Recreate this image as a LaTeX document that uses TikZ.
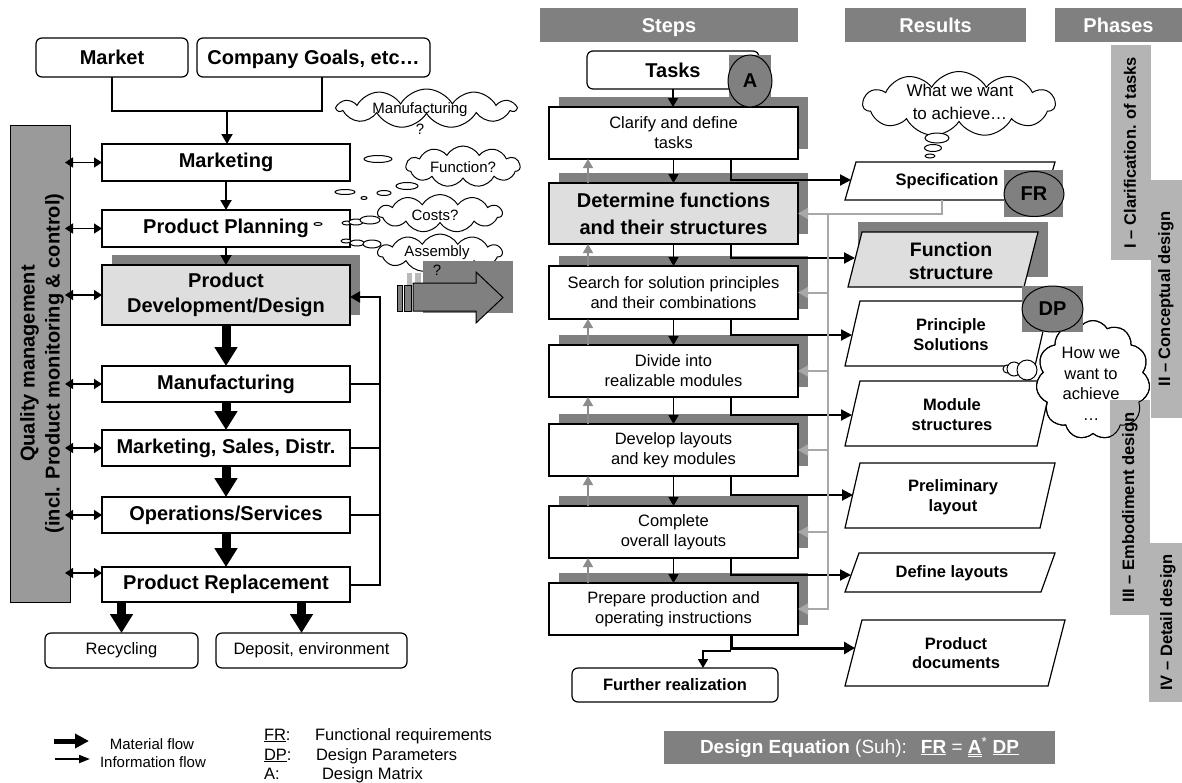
\documentclass[tikz,border=0pt]{standalone}
\usepackage{fontspec}
\setmainfont{Liberation Sans}
\usetikzlibrary{arrows.meta,shapes.symbols,shapes.geometric,shadows,calc}
\definecolor{hdrgray}{HTML}{808080}
\definecolor{qgray}{HTML}{9A9A9A}
\definecolor{lightfill}{HTML}{DEDEDE}
\definecolor{phasegray}{HTML}{B4B4B4}
\definecolor{fbgray}{HTML}{A8A8A8}
\definecolor{upgray}{HTML}{8C8C8C}
\newcommand\setfs[2]{\fontsize{#1}{#2}\selectfont}

\begin{document}
\begin{tikzpicture}[x=1pt,y=-1pt,
  every node/.style={inner sep=0pt, outer sep=0pt},
  lbox/.style={draw, line width=1.2pt, fill=white, minimum width=248pt, font=\setfs{20}{25}\bfseries, align=center},
  rbox/.style={draw, line width=1.2pt, fill=white, rounded corners=6pt, font=\setfs{20}{24}\bfseries},
  endbox/.style={draw, line width=1.2pt, fill=white, rounded corners=6pt, font=\setfs{16.5}{20}},
  stepbox/.style={draw, line width=1.2pt, fill=white, minimum width=249pt, font=\setfs{16.5}{20}, align=center,
    general shadow={fill=hdrgray, shadow xshift=10pt, shadow yshift=10pt}},
  hdr/.style={fill=hdrgray, text=white, minimum height=34pt, text height=14.5pt, text depth=0pt, font=\setfs{20}{24}\bfseries},
  matflow/.style={line width=9pt, -{Triangle[width=22pt,length=19pt]}},
  info/.style={line width=2pt, -{Triangle[width=11pt,length=10pt]}},
  infoboth/.style={line width=1.5pt, {Triangle[width=10pt,length=8pt]}-{Triangle[width=10pt,length=8pt]}},
  sarrow/.style={line width=1.6pt, -{Triangle[width=10pt,length=9pt]}},
  resarrow/.style={line width=2pt, -{Triangle[width=11pt,length=11pt]}},
  uparrow/.style={draw=upgray, line width=1.6pt, -{Triangle[width=10pt,length=9pt]}},
  fb/.style={draw=fbgray, line width=2pt},
  fbarrow/.style={fb, -{Triangle[width=11pt,length=10pt]}},
  thought/.style={cloud, draw, line width=1pt, fill=white, cloud puffs=11, cloud puff arc=120, cloud ignores aspect},
  thoughtline/.style={cloud, draw, line width=1pt, cloud puffs=11, cloud puff arc=120, cloud ignores aspect},
  bubble/.style={draw, line width=1pt, fill=white},
  resbox/.style={draw, line width=1.2pt, fill=white},
  restext/.style={font=\setfs{16.5}{19.5}\bfseries, align=center},
  phasetext/.style={rotate=90, font=\setfs{16.5}{20}\bfseries},
  circ/.style={draw, ellipse, line width=1pt, fill=hdrgray, font=\setfs{20}{24}\bfseries}
]
\useasboundingbox (0,0) rectangle (1182,782);
\fill[white] (0,0) rectangle (1182,782);

% ================= Product life cycle =================
\node[rbox, minimum width=152pt, minimum height=39pt] (market) at (112,57.5) {Market};
\node[rbox, minimum width=233pt, minimum height=39pt, text height=14.5pt, text depth=0pt] (goals) at (313.5,57.5) {Company Goals, etc…};

\node[draw, line width=1pt, fill=qgray, minimum width=60pt, minimum height=477pt] (qbar) at (40,363.5) {};
\node[rotate=90, align=center, font=\setfs{20}{25}\bfseries] (qtext) at (42,363.5)
  {Quality management\\(incl. Product monitoring \& control)};

\node[lbox, minimum height=37pt] (mkt) at (226,162.5) {Marketing};
\node[lbox, minimum height=37pt] (pp) at (226,228.5) {Product Planning};
\node[lbox, minimum height=60pt, fill=lightfill,
  general shadow={fill=hdrgray, shadow xshift=10pt, shadow yshift=10pt}] (pdd) at (226,295) {Product\\Development/Design};
\node[lbox, minimum height=36pt] (man) at (226,384) {Manufacturing};
\node[lbox, minimum height=36pt] (msd) at (226,448) {Marketing, Sales, Distr.};
\node[lbox, minimum height=36pt] (ops) at (226,515) {Operations/Services};
\node[lbox, minimum height=35pt] (repl) at (226,584.5) {Product Replacement};

\node[endbox, minimum width=153pt, minimum height=35pt] (recyc) at (121.5,650.5) {Recycling};
\node[endbox, minimum width=191pt, minimum height=35pt] (depo) at (311.5,650.5) {Deposit, environment};

% inputs into marketing
\coordinate (join) at (227,111);
\draw[line width=2pt] (market.south) |- (join) -| ([xshift=8.5pt]goals.south);
\draw[info] (join) -- (join |- mkt.north);
\draw[info] (mkt.south) -- (pp.north);
\draw[info] (pp.south) -- (pdd.north);

% material flow
\draw[matflow] (pdd.south) -- (man.north);
\draw[matflow] (man.south) -- (msd.north);
\draw[matflow] (msd.south) -- (ops.north);
\draw[matflow] (ops.south) -- (repl.north);
\draw[matflow] (repl.south -| recyc.north) -- (recyc.north);
\coordinate (depin) at ([xshift=-10pt]depo.north);
\draw[matflow] (depin |- repl.south) -- (depin);

% quality management links
\foreach \n in {mkt,pp,pdd,man,msd,ops}
  \draw[infoboth, shorten <=-5pt] (qbar.east |- \n.west) -- (\n.west);
\coordinate (replin) at ($(repl.west)+(0,-11.5)$);
\draw[infoboth, shorten <=-5pt] (qbar.east |- replin) -- (replin);

% feedback into development
\coordinate (fbx) at (380,297);
\draw[line width=2pt] (man.east) -- (man.east -| fbx);
\draw[line width=2pt] (msd.east) -- (msd.east -| fbx);
\draw[line width=2pt] (ops.east) -- (ops.east -| fbx);
\draw[info] (repl.east) -| (fbx) -- (fbx -| pdd.east);

% thought clouds
\node[thought, minimum width=178pt, minimum height=39pt] (cmanu) at (426.5,108.5) {};
\node[thought, minimum width=114pt, minimum height=41pt] (cfunc) at (463,166.5) {};
\node[thought, minimum width=124pt, minimum height=38pt] (ccost) at (440,213.5) {};
\node[thought, minimum width=124pt, minimum height=38pt] (cassy) at (440,253) {};
\node[font=\setfs{15}{18}] (tmanu) at (420,110) {Manufacturing};
\node[font=\setfs{15}{18}] (tfunc) at (463,167) {Function?};
\node[font=\setfs{15}{18}] (tcost) at (435,215) {Costs?};
\node[font=\setfs{15}{18}] (tassy) at (437,253) {Assembly};

\draw[bubble] (378,159) ellipse [x radius=14pt, y radius=3.5pt];
\draw[bubble] (407,186) ellipse [x radius=11pt, y radius=3.5pt];
\draw[bubble] (345,192) ellipse [x radius=10pt, y radius=2.5pt];
\draw[bubble] (384,193) ellipse [x radius=7pt, y radius=2.5pt];
\draw[bubble] (364,198) ellipse [x radius=3pt, y radius=1.5pt];
\draw[bubble] (318,224) ellipse [x radius=4pt, y radius=1.5pt];
\draw[bubble] (347,223) ellipse [x radius=5pt, y radius=2pt];
\draw[bubble] (356,222) ellipse [x radius=7pt, y radius=3pt];
\draw[bubble] (370,220) ellipse [x radius=10pt, y radius=4pt];
\draw[bubble] (346,241) ellipse [x radius=5pt, y radius=2pt];
\draw[bubble] (357,243) ellipse [x radius=7pt, y radius=3pt];
\draw[bubble] (372,244) ellipse [x radius=9pt, y radius=4pt];

% hand-over arrow towards the design process
\fill[hdrgray] (423,261) rectangle (513,313);
\fill[gray!55] (407,273) rectangle (412,285);
\fill[gray!55] (415,273) rectangle (421,285);
\draw[line width=1pt, fill=hdrgray] (397,285) rectangle (402,311);
\draw[line width=1pt, fill=hdrgray] (404,285) rectangle (411,311);
\draw[line width=1pt, fill=hdrgray] (413,283) -- (476,283) -- (476,272) -- (503,297.5)
  -- (476,323) -- (476,311) -- (413,311) -- cycle;

\node[font=\setfs{15}{18}] (qmanu) at (420,129) {?};
\node[font=\setfs{15}{18}] (qassy) at (437,270) {?};

% ================= Design process =================
\node[hdr, minimum width=258pt] (hsteps) at (669,25) {Steps};
\node[hdr, minimum width=181pt] (hres) at (935.5,25) {Results};
\node[hdr, minimum width=127pt] (hphase) at (1118.5,25) {Phases};

\node[rbox, minimum width=172pt, minimum height=38pt] (tasks) at (673,70) {Tasks};

\node[stepbox, minimum height=52pt] (s1) at (673.5,133) {Clarify and define\\tasks};
\node[stepbox, minimum height=61pt, fill=lightfill, font=\setfs{20}{27}\bfseries] (s2) at (673.5,213.5)
  {Determine functions\\and their structures};
\node[stepbox, minimum height=53pt] (s3) at (673.5,292.5) {Search for solution principles\\and their combinations};
\node[stepbox, minimum height=52pt] (s4) at (673.5,371) {Divide into\\realizable modules};
\node[stepbox, minimum height=52pt] (s5) at (673.5,450) {Develop layouts\\and key modules};
\node[stepbox, minimum height=52pt] (s6) at (673.5,532) {Complete\\overall layouts};
\node[stepbox, minimum height=52pt] (s7) at (673.5,609) {Prepare production and\\operating instructions};

\node[draw, line width=1.2pt, fill=white, rounded corners=6pt, minimum width=206pt, minimum height=34pt,
  font=\setfs{16.5}{20}\bfseries] (further) at (675,685) {Further realization};

% matrix marker
\fill[hdrgray] (729,55) rectangle (771,97);
\node[circ, minimum width=44pt, minimum height=52pt] (amat) at (750,81) {A};

% step sequence
\draw[sarrow] (tasks.south) -- (tasks.south |- s1.north);
\foreach \a/\b in {s1/s2,s2/s3,s3/s4,s4/s5,s5/s6,s6/s7}
  \draw[sarrow] (\a.south) -- (\b.north);
\foreach \a/\b in {s2/s1,s3/s2,s4/s3,s5/s4,s6/s5,s7/s6}
  \draw[uparrow] ([xshift=-85.5pt]\a.north) -- ([xshift=-85.5pt]\b.south);

% results
\draw[resbox] (845,200) -- (856,162) -- (1055,162) -- (1044,200) -- cycle;
\node[restext] (spec) at (947,181) {Specification};

\fill[hdrgray] (858,222) rectangle (1048,277);
\draw[resbox, fill=lightfill] (848,287) -- (862,232) -- (1038,232) -- (1024,287) -- cycle;
\node[restext, font=\setfs{19.5}{23}\bfseries] (func) at (951,261.5) {Function\\structure};

\draw[resbox] (845,366) -- (860,301) -- (1050,301) -- (1035,366) -- cycle;
\node[restext] (prin) at (951,334.5) {Principle\\Solutions};

\draw[resbox] (845,446) -- (860,381) -- (1052,381) -- (1037,446) -- cycle;
\node[restext] (modl) at (952,414.5) {Module\\structures};

\draw[resbox] (845,528) -- (860,463) -- (1055,463) -- (1040,528) -- cycle;
\node[restext] (prel) at (953,497) {Preliminary\\layout};

\draw[resbox] (845,592) -- (859,553) -- (1055,553) -- (1041,592) -- cycle;
\node[restext] (defl) at (952,573) {Define layouts};

\draw[resbox] (845,686) -- (862,620) -- (1065,620) -- (1048,686) -- cycle;
\node[restext] (pdoc) at (956,653) {Product\\documents};

\coordinate (specin) at (851,180);
\coordinate (funcin) at (855,258);
\coordinate (prinin) at (852,335);
\coordinate (modlin) at (852,415);
\coordinate (prelin) at (853,495);
\coordinate (deflin) at (851,575);
\coordinate (pdocin) at (855,648);

\draw[resarrow] ([xshift=57.5pt]s1.south) |- (specin);
\draw[resarrow] ([xshift=57.5pt]s2.south) |- (funcin);
\draw[resarrow] ([xshift=57.5pt]s3.south) |- (prinin);
\draw[resarrow] ([xshift=57.5pt]s4.south) |- (modlin);
\draw[resarrow] ([xshift=57.5pt]s5.south) |- (prelin);
\draw[resarrow] ([xshift=57.5pt]s6.south) |- (deflin);
\draw[line width=3pt, -{Triangle[width=12pt,length=11pt]}] ([xshift=57.5pt]s7.south) |- (pdocin);
\coordinate (branch) at (731,651);
\draw[sarrow] (branch) -| ([xshift=28pt]further.north);

% feedback from the specification
\coordinate (specout) at (942,200);
\coordinate (fbv) at (828,213.5);
\draw[fbarrow] (specout) |- (s2.east);
\draw[fbarrow] (fbv) |- (s7.east);
\foreach \s in {s3,s4,s5,s6}
  \draw[fbarrow] (fbv |- \s.east) -- (\s.east);

% requirement / parameter markers
\fill[hdrgray] (1004,170) rectangle (1063,217);
\node[circ, minimum width=60pt, minimum height=45pt] (frc) at (1034,194) {FR};

% thought clouds on the results side
\node[thought, minimum width=192pt, minimum height=65pt] (cwhat) at (959,104) {};
\node[font=\setfs{17}{23}, align=center] (twhat) at (960,101.5) {What we want\\to achieve…};
\draw[bubble] (937,138) ellipse [x radius=12pt, y radius=5pt];
\draw[bubble] (933,148) ellipse [x radius=8.5pt, y radius=3.5pt];
\draw[bubble] (930,156) ellipse [x radius=5pt, y radius=2pt];

% phases
\fill[phasegray] (1111,45) rectangle (1151,260);
\fill[phasegray] (1151,180) rectangle (1182,418);
\fill[phasegray] (1149,543) rectangle (1182,702);

\node[thought, minimum width=114pt, minimum height=119pt] (chow) at (1093,380) {};
\draw[bubble] (1007,369) circle [radius=4pt];
\draw[bubble] (1014,369) circle [radius=7pt];
\draw[bubble] (1027,370) circle [radius=10pt];

\fill[phasegray] (1110,400) rectangle (1150,615);
\node[thoughtline, minimum width=114pt, minimum height=119pt] (chowline) at (1093,380) {};
\node[font=\setfs{16.5}{20.5}, align=center] (thow) at (1091,384) {How we\\want to\\achieve\\…};

\fill[hdrgray] (1022,286) rectangle (1083,332);
\node[circ, minimum width=61pt, minimum height=46pt] (dpc) at (1052.5,309) {DP};

\node[phasetext] (ph1) at (1130,152.5) {I – Clarification. of tasks};
\node[phasetext] (ph2) at (1166,299) {II – Conceptual design};
\node[phasetext] (ph3) at (1130,507.5) {III – Embodiment design};
\node[phasetext] (ph4) at (1168,622.5) {IV – Detail design};

% design equation
\node[fill=hdrgray, text=white, minimum width=391pt, minimum height=33pt, font=\setfs{19}{23}] (deq) at (859.5,747.5)
  {\textbf{Design Equation} (Suh):\hspace{14pt}\underline{\textbf{FR}} = \underline{\underline{\textbf{A}}}\textsuperscript{*} \underline{\textbf{DP}}};

% legend
\coordinate (lm1) at (54,741);
\coordinate (lm2) at (89,741);
\draw[line width=5pt, -{Triangle[width=14pt,length=14pt]}] (lm1) -- (lm2);
\node[font=\setfs{15}{18}] (lmat) at (152,744) {Material flow};
\coordinate (li1) at (55,759);
\coordinate (li2) at (90,759);
\draw[line width=2pt, -{Triangle[width=8pt,length=11pt]}] (li1) -- (li2);
\node[font=\setfs{15}{18}] (linf) at (153,762) {Information flow};

\node[anchor=base west, font=\setfs{16.5}{20}] (dfr) at (264,740) {\underline{FR}:};
\node[anchor=base west, font=\setfs{16.5}{20}] (dfrt) at (315,740) {Functional requirements};
\node[anchor=base west, font=\setfs{16.5}{20}] (ddp) at (264,760) {\underline{DP}:};
\node[anchor=base west, font=\setfs{16.5}{20}] (ddpt) at (316,760) {Design Parameters};
\node[anchor=base west, font=\setfs{16.5}{20}] (da) at (264,779) {A:};
\node[anchor=base west, font=\setfs{16.5}{20}] (dat) at (322,779) {Design Matrix};
\end{tikzpicture}
\end{document}
